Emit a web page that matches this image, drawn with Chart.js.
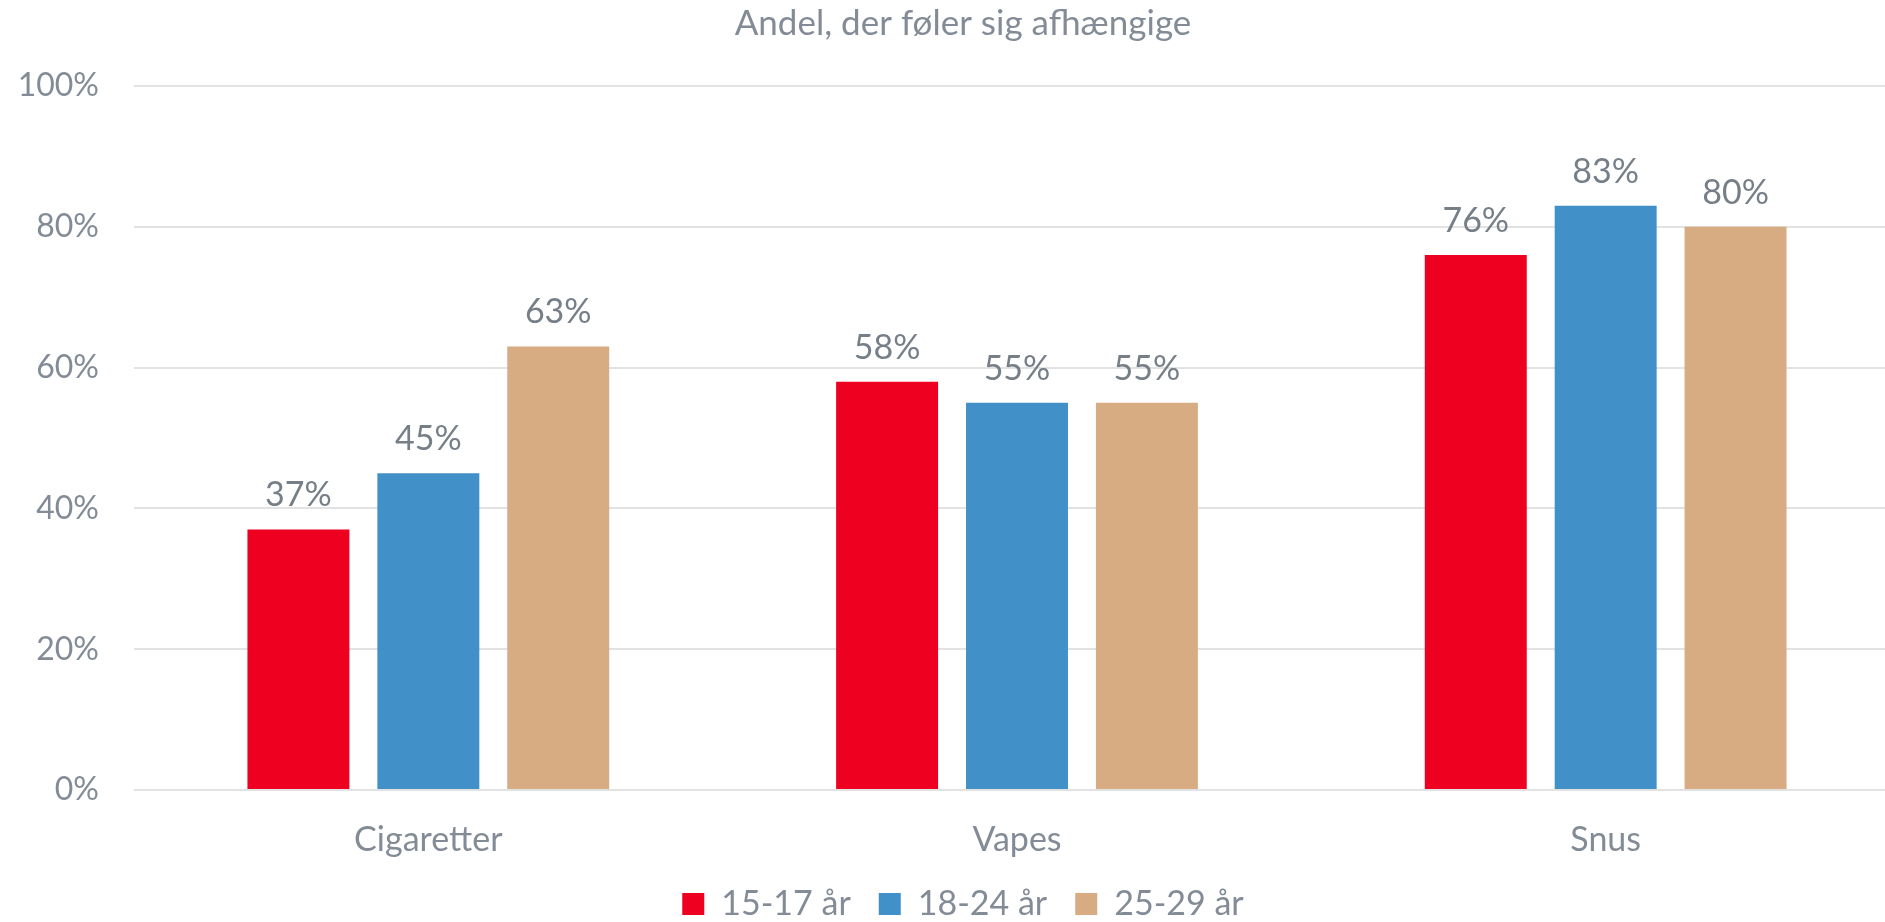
<!DOCTYPE html>
<html>
<head>
<meta charset="utf-8">
<script src="https://cdn.jsdelivr.net/npm/chart.js@4.4.1/dist/chart.umd.min.js"></script>
<style>
  html, body { margin:0; padding:0; background:#fff; overflow:hidden; }
  .wrap { width:1926px; height:922px; }
</style>
</head>
<body>
<div class="wrap"><canvas id="chart"></canvas></div>
<script>
const categories = ['Cigaretter', 'Vapes', 'Snus'];
const seriesNames = ['15-17 år', '18-24 år', '25-29 år'];
const age1517 = [37, 58, 76];
const age1824 = [45, 55, 83];
const age2529 = [63, 55, 80];
const yTicks = [0, 20, 40, 60, 80, 100];

const red  = '#EE0020';
const blue = '#4191C8';
const tan  = '#D8AC82';
const textGray = '#838c96';
const labelGray = '#767f88';
const font = 'Lato, "Open Sans", sans-serif';

// value labels above each bar
const barLabels = {
  id: 'barLabels',
  afterDatasetsDraw(chart) {
    const ctx = chart.ctx;
    ctx.save();
    ctx.font = '34px ' + font;
    ctx.fillStyle = labelGray;
    ctx.textAlign = 'center';
    ctx.textBaseline = 'middle';
    chart.data.datasets.forEach((ds, i) => {
      chart.getDatasetMeta(i).data.forEach((bar, j) => {
        ctx.fillText(ds.data[j] + '%', bar.x, bar.y - 34);
      });
    });
    ctx.restore();
  }
};

new Chart(document.getElementById('chart'), {
  type: 'bar',
  data: {
    labels: categories,
    datasets: [
      { label: seriesNames[0], data: age1517, backgroundColor: red },
      { label: seriesNames[1], data: age1824, backgroundColor: blue },
      { label: seriesNames[2], data: age2529, backgroundColor: tan }
    ]
  },
  options: {
    responsive: true,
    maintainAspectRatio: false,
    animation: false,
    categoryPercentage: 0.662,
    barPercentage: 0.785,
    layout: { padding: { left: 0, right: 0, top: 0, bottom: -9 } },
    plugins: {
      title: {
        display: true,
        text: 'Andel, der føler sig afhængige',
        color: textGray,
        font: { family: font, size: 35, weight: 'normal', lineHeight: 1.2 },
        padding: { top: 3, bottom: 41 }
      },
      legend: {
        position: 'bottom',
        labels: {
          color: textGray,
          font: { family: font, size: 34, lineHeight: 1.2 },
          boxWidth: 22, boxHeight: 22,
          padding: 28
        }
      },
      tooltip: { enabled: false }
    },
    scales: {
      x: {
        afterFit: s => { s.height = 69; },
        grid: { display: false, drawTicks: false },
        border: { display: false },
        ticks: { color: textGray, font: { family: font, size: 34, lineHeight: 1.2 }, padding: 30 }
      },
      y: {
        min: 0, max: 100,
        afterBuildTicks: s => { s.ticks = yTicks.map(v => ({ value: v })); },
        afterFit: s => { s.width = 134; },
        grid: { color: '#e2e2e2', lineWidth: 2, drawTicks: false },
        border: { display: false },
        ticks: { color: textGray, font: { family: font, size: 32, lineHeight: 1.2 }, padding: 35,
                 callback: v => v + '%' }
      },
      // empty right margin (the plot runs off the right edge of the picture)
      yRight: {
        position: 'right',
        afterFit: s => { s.width = 26; },
        grid: { display: false, drawTicks: false },
        border: { display: false },
        ticks: { display: false }
      }
    }
  },
  plugins: [barLabels]
});
</script>
</body>
</html>
